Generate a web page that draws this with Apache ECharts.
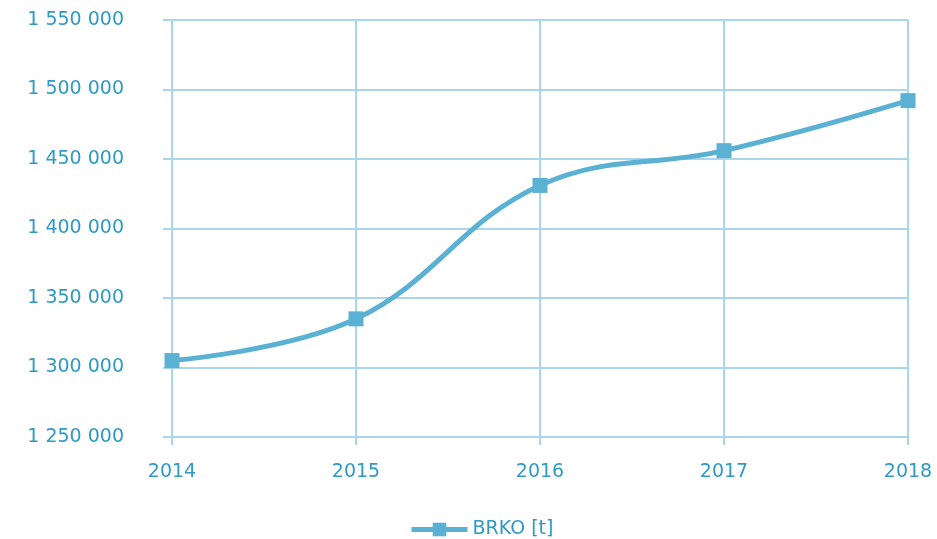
<!DOCTYPE html>
<html><head><meta charset="utf-8">
<script src="https://cdn.jsdelivr.net/npm/echarts@6/dist/echarts.min.js"></script>
<style>html,body{margin:0;padding:0;background:#fff}#c{width:937px;height:539px}</style>
</head><body><div id="c"></div>
<script>
const categories = ['2014','2015','2016','2017','2018'];
const brko = [1305000, 1335000, 1431000, 1456000, 1492000];
const seriesName = 'BRKO [t]';
const yMin = 1250000, yMax = 1550000, yStep = 50000;

const lineColor = '#5AB1D3';
const gridColor = '#A9D6EA';
const textColor = '#2F9AC6';
const font = 'DejaVu Sans';

const chart = echarts.init(document.getElementById('c'), null, {renderer:'canvas'});
chart.setOption({
  animation: false,
  grid: {left: 172, right: 29, top: 20, bottom: 102},
  legend: {
    top: 515, left: 404,
    itemWidth: 56, itemHeight: 17,
    textStyle: {color: textColor, fontFamily: font, fontSize: 19},
    lineStyle: {width: 5, color: lineColor},
    itemStyle: {color: lineColor},
    data: [{name: seriesName}],
    itemGap: 4
  },
  xAxis: {
    type: 'category', data: categories, boundaryGap: false,
    axisLine: {lineStyle: {color: gridColor, width: 2}},
    axisTick: {show: true, length: 8, lineStyle: {color: gridColor, width: 2}, alignWithLabel: true},
    splitLine: {show: true, lineStyle: {color: gridColor, width: 2}},
    axisLabel: {color: textColor, fontFamily: font, fontSize: 19, margin: 26}
  },
  yAxis: {
    type: 'value', min: yMin, max: yMax, interval: yStep,
    axisLine: {show: true, lineStyle: {color: gridColor, width: 2}},
    axisTick: {show: true, length: 9, lineStyle: {color: gridColor, width: 2}},
    splitLine: {show: true, lineStyle: {color: gridColor, width: 2}},
    axisLabel: {color: textColor, fontFamily: font, fontSize: 19, margin: 48,
      formatter: v => String(v).replace(/\B(?=(\d{3})+(?!\d))/g, ' ')}
  },
  series: [{
    name: seriesName, type: 'line', data: brko, smooth: 0.4,
    symbol: 'rect', symbolSize: 15,
    lineStyle: {color: lineColor, width: 5},
    itemStyle: {color: lineColor}
  }]
});
</script></body></html>
